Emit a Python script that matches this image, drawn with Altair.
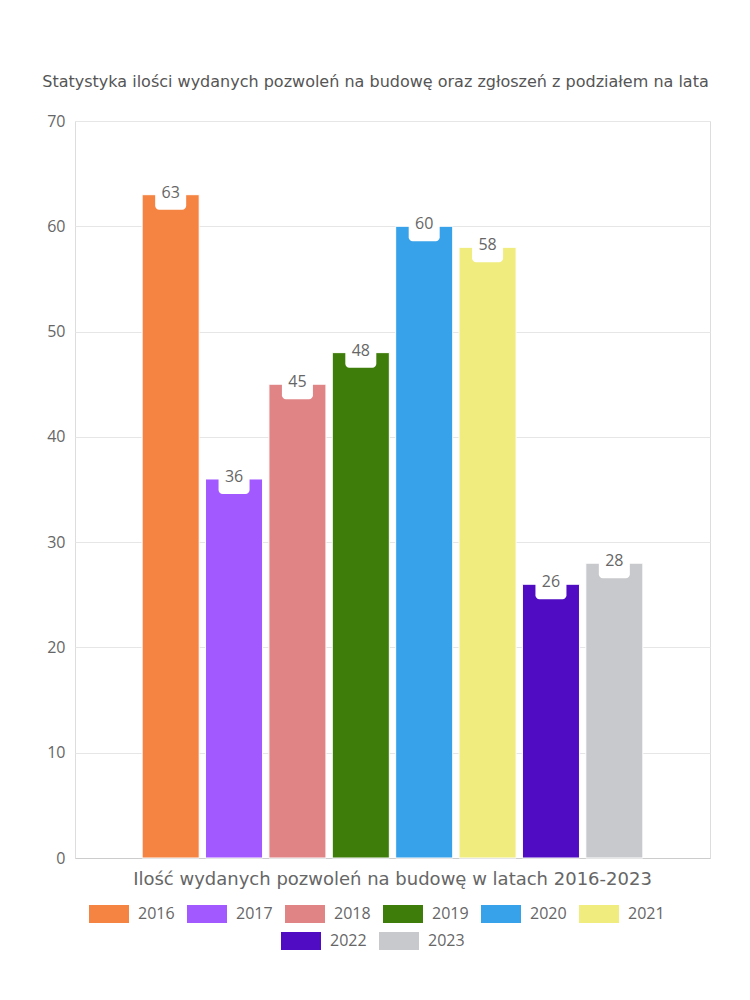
import altair as alt
import pandas as pd

years = ["2016", "2017", "2018", "2019", "2020", "2021", "2022", "2023"]
values = [63, 36, 45, 48, 60, 58, 26, 28]
colors = ["#f58442", "#a259ff", "#e08486", "#3f7d0b", "#37a2ea", "#f0ec7e", "#4f0cc2", "#c8c9cd"]
category = "Ilość wydanych pozwoleń na budowę w latach 2016-2023"
title_text = "Statystyka ilości wydanych pozwoleń na budowę oraz zgłoszeń z podziałem na lata"

df = pd.DataFrame({"cat": [category] * len(years), "year": years, "value": values})

FONT = "Open Sans"
WIDE = "DejaVu Sans"
GRAY = "#666666"

x_enc = alt.X("cat:N", title=None,
              axis=alt.Axis(labelAngle=0, labelFontSize=18, labelColor=GRAY, labelFont=WIDE,
                            ticks=False, labelPadding=12, domainColor="#cccccc", labelLimit=700),
              scale=alt.Scale(paddingInner=0, paddingOuter=0.006))
xo_enc = alt.XOffset("year:N", scale=alt.Scale(domain=years, paddingInner=0.1, paddingOuter=1))
y_enc = alt.Y("value:Q", title=None,
              scale=alt.Scale(domain=[0, 70]),
              axis=alt.Axis(values=list(range(0, 71, 10)), labelFontSize=16, labelColor=GRAY,
                            labelFont=FONT, ticks=False, labelPadding=10, domain=False,
                            gridColor="#e6e6e6"))

sym = "M-1,-0.45L1,-0.45L1,0.45L-1,0.45Z"

def legend(cols, lx, ly):
    return alt.Legend(title=None, orient="none", legendX=lx, legendY=ly, direction="horizontal",
                      columns=cols, symbolType=sym, symbolSize=1600, symbolStrokeWidth=0,
                      labelFontSize=16, labelColor=GRAY, labelFont=FONT, labelOffset=9,
                      columnPadding=12)

base = alt.Chart(df)

bars_a = base.transform_filter(alt.FieldOneOfPredicate(field="year", oneOf=years[:6])).mark_bar(
    stroke="white", strokeWidth=1).encode(
    x=x_enc, xOffset=xo_enc, y=y_enc,
    color=alt.Color("year:N", scale=alt.Scale(domain=years[:6], range=colors[:6]),
                    legend=legend(6, 14, 773)))

bars_b = base.transform_filter(alt.FieldOneOfPredicate(field="year", oneOf=years[6:])).mark_bar(
    stroke="white", strokeWidth=1).encode(
    x=x_enc, xOffset=xo_enc, y=y_enc,
    color=alt.Color("year:N", scale=alt.Scale(domain=years[6:], range=colors[6:]),
                    legend=legend(2, 206, 800)))

boxes = base.mark_bar(color="white", width=31, cornerRadius=4, yOffset=-16, y2Offset=15).encode(
    x=x_enc, xOffset=xo_enc, y=y_enc, y2="value:Q")

labels = base.mark_text(fontSize=16, color=GRAY, font=FONT, baseline="middle", dy=-2).encode(
    x=x_enc, xOffset=xo_enc, y=y_enc, text="value:Q")

chart = alt.layer(bars_a, bars_b, boxes, labels).resolve_scale(color="independent").properties(
    width=635, height=737,
    title=alt.TitleParams(title_text, fontSize=16, color="#555555", font=WIDE, fontWeight="normal",
                          anchor="middle", dx=-17, offset=23),
    autosize=alt.AutoSizeParams(type="none"),
    padding={"left": 75, "top": 121, "right": 40, "bottom": 142},
).configure_view(stroke="#e6e6e6").configure(background="white")

chart.save("out.html", embed_options={"renderer": "svg", "actions": False})
